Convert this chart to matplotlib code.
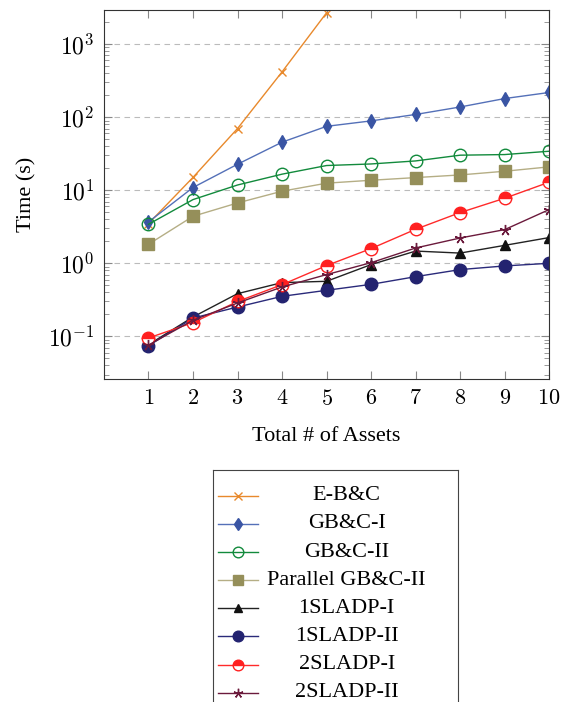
import numpy as np
import matplotlib.pyplot as plt
from matplotlib.lines import Line2D
from matplotlib.ticker import FuncFormatter

plt.rcParams['font.family'] = ['Liberation Serif', 'DejaVu Serif']
plt.rcParams['mathtext.fontset'] = 'cm'

assets = [1, 2, 3, 4, 5, 6, 7, 8, 9, 10]
ebc = [3.5, 15, 70, 417, 2690]
gbc1 = [3.68, 10.9, 22.7, 45.5, 75, 89, 109, 138, 180, 218]
gbc2 = [3.42, 7.45, 11.8, 16.6, 21.8, 22.9, 25.2, 30.2, 30.8, 34.2]
par_gbc2 = [1.82, 4.4, 6.7, 9.7, 12.5, 13.7, 14.9, 16.2, 18.2, 20.9]
sladp1_1 = [0.077, 0.184, 0.384, 0.544, 0.567, 0.96, 1.47, 1.38, 1.76, 2.25]
sladp1_2 = [0.0745, 0.178, 0.252, 0.353, 0.427, 0.515, 0.656, 0.82, 0.92, 1.0]
sladp2_1 = [0.095, 0.154, 0.30, 0.51, 0.93, 1.59, 2.92, 4.95, 7.77, 12.9]
sladp2_2 = [0.076, 0.166, 0.286, 0.474, 0.70, 1.02, 1.62, 2.22, 2.89, 5.44]

labels = ['E-B&C', 'GB&C-I', 'GB&C-II', 'Parallel GB&C-II',
          '1SLADP-I', '1SLADP-II', '2SLADP-I', '2SLADP-II']
series = [ebc, gbc1, gbc2, par_gbc2, sladp1_1, sladp1_2, sladp2_1, sladp2_2]

styles = [
    dict(color='#e8892c', marker='x', ms=6, mew=1.0, mfc='#e8892c', mec='#e8892c'),
    dict(color='#5470b8', marker='d', ms=7, mew=1.0, mfc='#3a55a4', mec='#3a55a4'),
    dict(color='#128a3c', marker='o', ms=9, mew=1.0, mfc='none', mec='#128a3c'),
    dict(color='#b5ae85', marker='s', ms=9, mew=1.0, mfc='#958f5a', mec='#958f5a'),
    dict(color='#222222', marker='^', ms=7, mew=1.0, mfc='#111111', mec='#111111'),
    dict(color='#2a2a7a', marker='o', ms=9, mew=1.0, mfc='#232370', mec='#232370'),
    dict(color='#ff2a2a', marker='o', ms=9, mew=1.0, mfc='#ff2020', mec='#ff2020',
         fillstyle='top', markerfacecoloralt='white'),
    dict(color='#6b1a3c', marker=(5, 2, 0), ms=8, mew=1.0, mfc='#6b1a3c', mec='#6b1a3c'),
]

fig = plt.figure(figsize=(5.65, 7.02), dpi=100)
ax = fig.add_axes([0.184, 0.46, 0.788, 0.526])

for vals, st in zip(series, styles):
    ax.plot(assets[:len(vals)], vals, lw=1.0, **st)

ax.set_yscale('log')
ax.set_xlim(0, 10)
ax.set_ylim(0.026, 2950)
ax.set_xticks(assets)
ax.set_xticklabels(['$%d$' % a for a in assets])
ax.yaxis.set_major_formatter(FuncFormatter(lambda v, p: '$10^{%d}$' % round(np.log10(v))))
ax.tick_params(which='both', direction='in', top=True, right=True,
               labelsize=17, color='#888888')
ax.tick_params(which='major', length=6)
ax.tick_params(which='minor', length=3.5)
ax.tick_params(axis='x', pad=8, labelsize=16)
ax.tick_params(axis='y', pad=7)
ax.grid(True, axis='y', which='major', ls=(0, (5, 4)), color='#bbbbbb', lw=0.8)
for s in ax.spines.values():
    s.set_color('#333333')
    s.set_linewidth(0.8)
ax.set_ylabel('Time (s)', fontsize=16, labelpad=8)
ax.set_xlabel('Total # of Assets', fontsize=16, labelpad=12)

# legend box with centred entries
lax = fig.add_axes([0.377, -0.02, 0.434, 0.3505])
lax.set_xlim(0, 1)
lax.set_ylim(8.55, -0.2)
lax.set_xticks([])
lax.set_yticks([])
for s in lax.spines.values():
    s.set_color('#444444')
    s.set_linewidth(0.8)
for i, (lab, st) in enumerate(zip(labels, styles)):
    y = i + 0.72
    lax.add_line(Line2D([0.02, 0.1, 0.185], [y, y, y], lw=1.0, markevery=[1],
                        **{**st, 'ms': st['ms'] * 0.85}))
    lax.text(0.545, y, lab, ha='center', va='center', fontsize=16)

fig.savefig('out.png', dpi=100)
